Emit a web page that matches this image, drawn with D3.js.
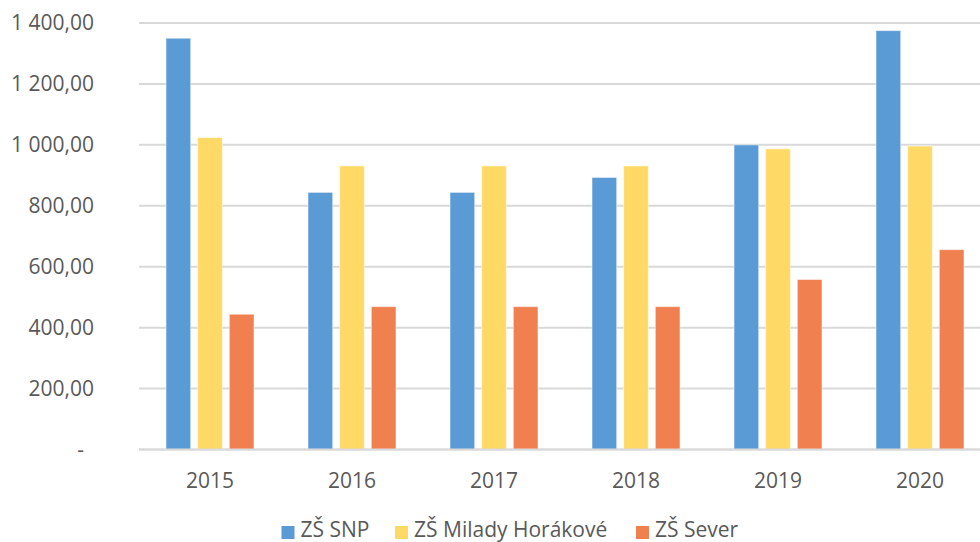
<!DOCTYPE html>
<html>
<head>
<meta charset="utf-8">
<script src="https://cdn.jsdelivr.net/npm/d3@7"></script>
<style>
  html, body { margin: 0; padding: 0; background: #fff; overflow: hidden; }
  svg { display: block; font-family: "Open Sans", "Noto Sans", sans-serif; }
</style>
</head>
<body>
<script>
// data
const years = ["2015", "2016", "2017", "2018", "2019", "2020"];
const series = ["ZŠ SNP", "ZŠ Milady Horákové", "ZŠ Sever"];
const snp = [1350, 844, 844, 893, 1000, 1375];
const milady = [1024, 931, 931, 931, 987, 996];
const sever = [444, 469, 469, 469, 558, 656];
const yTicks = [0, 200, 400, 600, 800, 1000, 1200, 1400];
const colors = ["#5B9BD5", "#FFD966", "#F08050"];

const values = [snp, milady, sever];
const rows = years.map((y, i) => ({
  year: y,
  vals: series.map((s, j) => ({ key: s, value: values[j][i], color: colors[j] }))
}));

const w = 980, h = 542;
const svg = d3.select("body").append("svg")
  .attr("width", w)
  .attr("height", h);

const x0 = d3.scaleBand()
  .domain(years)
  .range([139, 991])
  .padding(0);
const x1 = d3.scaleBand()
  .domain(series)
  .range([27, x0.bandwidth() - 27])
  .paddingInner(0.22);
const y = d3.scaleLinear()
  .domain([0, 1400])
  .range([449.5, 23]);

// number format like "1 400,00"
const fmt = (v) => v === 0 ? "-" :
  d3.format(",.2f")(v).replace(/,/g, " ").replace(".", ",");

// gridlines
svg.append("g")
  .selectAll("line")
  .data(yTicks)
  .join("line")
  .attr("x1", 139)
  .attr("x2", w)
  .attr("y1", (d) => y(d))
  .attr("y2", (d) => y(d))
  .attr("stroke", "#D9D9D9")
  .attr("stroke-width", 2);

// y labels
svg.append("g")
  .selectAll("text")
  .data(yTicks)
  .join("text")
  .attr("x", (d) => d === 0 ? 84 : 94)
  .attr("y", (d) => y(d))
  .attr("dy", "0.35em")
  .attr("text-anchor", "end")
  .attr("fill", "#595959")
  .style("font-size", "21px")
  .text(fmt);

// bars
svg.append("g")
  .selectAll("g")
  .data(rows)
  .join("g")
  .attr("transform", (d) => `translate(${x0(d.year)},0)`)
  .selectAll("rect")
  .data((d) => d.vals)
  .join("rect")
  .attr("x", (d) => x1(d.key))
  .attr("y", (d) => y(d.value))
  .attr("width", x1.bandwidth())
  .attr("height", (d) => y(0) - y(d.value))
  .attr("fill", (d) => d.color)
  .attr("stroke", "#fff")
  .attr("stroke-opacity", 0.5)
  .attr("stroke-width", 1);

// baseline on top of bars
svg.append("line")
  .attr("x1", 139)
  .attr("x2", w)
  .attr("y1", y(0))
  .attr("y2", y(0))
  .attr("stroke", "#D9D9D9")
  .attr("stroke-width", 2);

// x labels
svg.append("g")
  .selectAll("text")
  .data(years)
  .join("text")
  .attr("x", (d) => x0(d) + x0.bandwidth() / 2)
  .attr("y", 488)
  .attr("text-anchor", "middle")
  .attr("fill", "#595959")
  .style("font-size", "21px")
  .text((d) => d);

// legend
const legendX = [281.5, 395, 636];
const legend = svg.append("g")
  .selectAll("g")
  .data(series)
  .join("g")
  .attr("transform", (d, i) => `translate(${legendX[i]},526)`);
legend.append("rect")
  .attr("width", 13)
  .attr("height", 13)
  .attr("fill", (d, i) => colors[i]);
legend.append("text")
  .attr("x", 19)
  .attr("y", 11)
  .attr("fill", "#595959")
  .style("font-size", "21px")
  .text((d) => d);
</script>
</body>
</html>
